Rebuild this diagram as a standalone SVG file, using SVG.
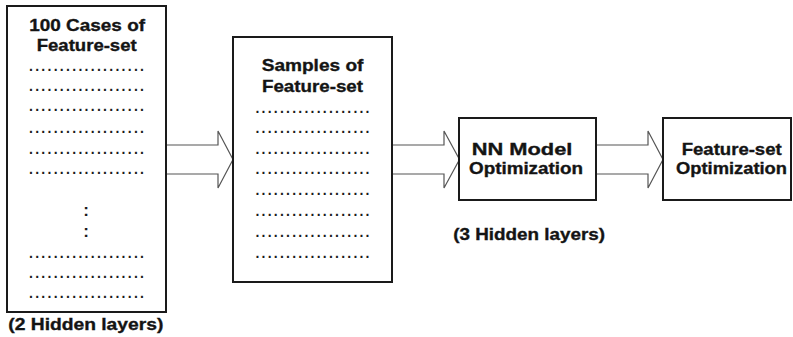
<svg xmlns="http://www.w3.org/2000/svg" width="793" height="337" viewBox="0 0 793 337">
<style>
.box{fill:#fff;stroke:#1a1a1a;stroke-width:2}
.arr{fill:#fff;stroke:#555;stroke-width:1.2;stroke-linejoin:miter}
.t{font-family:"Liberation Sans",Arial,sans-serif;font-weight:bold;font-size:17px;fill:#141414;stroke:#141414;stroke-width:0.35}
.d{font-family:"Liberation Sans",Arial,sans-serif;font-weight:bold;font-size:14px;fill:#1a1a1a}
.c{font-family:"Liberation Sans",Arial,sans-serif;font-weight:bold;font-size:17px;fill:#1a1a1a}
</style>
<rect width="793" height="337" fill="#fff"/>
<g id="connectors">
<path class="arr" d="M166,145 H218 V131 L233,159.5 L218,188 V174 H166"/>
<path class="arr" d="M392,145 H444 V131 L459.5,159.5 L444,188 V174 H392"/>
<path class="arr" d="M596,145 H648 V131 L663,159.5 L648,188 V174 H596"/>
</g>
<g id="cases">
<rect class="box" x="7" y="6" width="159" height="306"/>
<text class="t" x="29.3" y="30.7" textLength="115.7" lengthAdjust="spacingAndGlyphs">100 Cases of</text>
<text class="t" x="36.7" y="50.7" textLength="100" lengthAdjust="spacingAndGlyphs">Feature-set</text>
<g class="d">
<text x="29" y="71" textLength="115" lengthAdjust="spacing">...................</text>
<text x="29" y="91" textLength="115" lengthAdjust="spacing">...................</text>
<text x="29" y="111" textLength="115" lengthAdjust="spacing">...................</text>
<text x="29" y="132.7" textLength="115" lengthAdjust="spacing">...................</text>
<text x="29" y="153.7" textLength="115" lengthAdjust="spacing">...................</text>
<text x="29" y="174" textLength="115" lengthAdjust="spacing">...................</text>
<text x="29" y="257.7" textLength="115" lengthAdjust="spacing">...................</text>
<text x="29" y="277.7" textLength="115" lengthAdjust="spacing">...................</text>
<text x="29" y="297.7" textLength="115" lengthAdjust="spacing">...................</text>
</g>
<text class="c" x="86" y="216.3" text-anchor="middle">:</text>
<text class="c" x="86" y="237.3" text-anchor="middle">:</text>
</g>
<g id="samples">
<rect class="box" x="233" y="37" width="159" height="245"/>
<text class="t" x="261.7" y="71" textLength="101.7" lengthAdjust="spacingAndGlyphs">Samples of</text>
<text class="t" x="262" y="91.7" textLength="101" lengthAdjust="spacingAndGlyphs">Feature-set</text>
<g class="d">
<text x="255.5" y="112.7" textLength="114" lengthAdjust="spacing">...................</text>
<text x="255.5" y="133.3" textLength="114" lengthAdjust="spacing">...................</text>
<text x="255.5" y="153.7" textLength="114" lengthAdjust="spacing">...................</text>
<text x="255.5" y="174.3" textLength="114" lengthAdjust="spacing">...................</text>
<text x="255.5" y="195" textLength="114" lengthAdjust="spacing">...................</text>
<text x="255.5" y="216" textLength="114" lengthAdjust="spacing">...................</text>
<text x="255.5" y="237" textLength="114" lengthAdjust="spacing">...................</text>
<text x="255.5" y="257.7" textLength="114" lengthAdjust="spacing">...................</text>
</g>
</g>
<g id="nn-model">
<rect class="box" x="459" y="118" width="137" height="82"/>
<text class="t" x="471.7" y="155" textLength="100.7" lengthAdjust="spacingAndGlyphs">NN Model</text>
<text class="t" x="469" y="174.3" textLength="114" lengthAdjust="spacingAndGlyphs">Optimization</text>
</g>
<g id="feature-opt">
<rect class="box" x="663" y="118" width="128" height="82"/>
<text class="t" x="681.7" y="155" textLength="100" lengthAdjust="spacingAndGlyphs">Feature-set</text>
<text class="t" x="676" y="174.3" textLength="111" lengthAdjust="spacingAndGlyphs">Optimization</text>
</g>
<g id="labels">
<text class="t" x="453.3" y="240" textLength="151.7" lengthAdjust="spacingAndGlyphs">(3 Hidden layers)</text>
<text class="t" x="8.3" y="330" textLength="155" lengthAdjust="spacingAndGlyphs">(2 Hidden layers)</text>
</g>
</svg>
